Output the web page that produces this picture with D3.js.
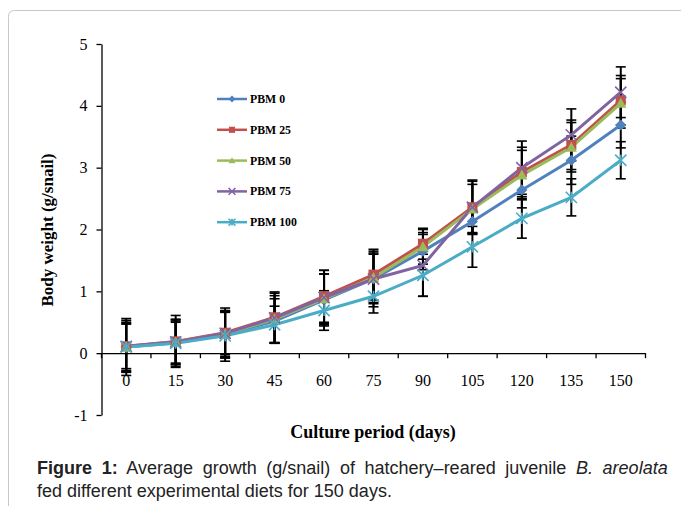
<html>
  <head>
    <meta charset="utf-8" />
    <script src="https://d3js.org/d3.v7.min.js"></script>
    <style>
      body { margin: 0; background: #fff; }
      .tick text { font-family: "Liberation Serif", "Times New Roman", serif; font-size: 16px; }
      .caption { font-family: "Liberation Sans", Arial, sans-serif; font-size: 18px; fill: #222; }
    </style>
  </head>
  <body>
    <svg id="chart" width="681" height="506"></svg>
    <script>
      var days = ["0", "15", "30", "45", "60", "75", "90", "105", "120", "135", "150"];
      var yTicks = [-1, 0, 1, 2, 3, 4, 5];
      var seriesNames = ["PBM 0", "PBM 25", "PBM 50", "PBM 75", "PBM 100"];

      var pbm0 = [0.10, 0.17, 0.30, 0.52, 0.86, 1.20, 1.65, 2.13, 2.64, 3.12, 3.69];
      var pbm25 = [0.11, 0.19, 0.33, 0.58, 0.92, 1.27, 1.77, 2.36, 2.93, 3.37, 4.09];
      var pbm50 = [0.10, 0.18, 0.31, 0.55, 0.88, 1.22, 1.72, 2.33, 2.88, 3.33, 4.04];
      var pbm75 = [0.11, 0.18, 0.32, 0.57, 0.90, 1.20, 1.42, 2.36, 3.00, 3.53, 4.22];
      var pbm100 = [0.10, 0.16, 0.28, 0.46, 0.69, 0.92, 1.26, 1.72, 2.18, 2.52, 3.12];

      // standard deviations (error bars)
      var err0 = [0.40, 0.38, 0.38, 0.36, 0.42, 0.40, 0.30, 0.18, 0.29, 0.39, 0.37];
      var err25 = [0.42, 0.42, 0.40, 0.41, 0.42, 0.41, 0.25, 0.44, 0.40, 0.40, 0.40];
      var err50 = [0.38, 0.36, 0.36, 0.38, 0.40, 0.40, 0.28, 0.40, 0.40, 0.40, 0.40];
      var err75 = [0.36, 0.34, 0.34, 0.40, 0.44, 0.45, 0.50, 0.42, 0.43, 0.42, 0.41];
      var err100 = [0.46, 0.34, 0.41, 0.30, 0.32, 0.27, 0.34, 0.33, 0.32, 0.30, 0.30];

      var colors = ["#4F81BD", "#C0504D", "#9BBB59", "#8064A2", "#4BACC6"];
      var markers = ["diamond", "square", "triangle", "x", "star"];

      var series = seriesNames.map(function (name, i) {
        var vals = [pbm0, pbm25, pbm50, pbm75, pbm100][i];
        var errs = [err0, err25, err50, err75, err100][i];
        return {
          name: name,
          color: colors[i],
          marker: markers[i],
          points: days.map(function (d, j) { return { day: d, v: vals[j], e: errs[j] }; })
        };
      });

      var svg = d3.select("#chart");
      var serif = '"Liberation Serif", "Times New Roman", serif';

      // figure frame (top and left edges visible)
      svg.append("path")
        .attr("d", "M8.5,520V16.5Q8.5,10.5 14.5,10.5H700")
        .attr("fill", "none")
        .attr("stroke", "#c8c8c8");

      var x = d3.scaleBand().domain(days).range([101.5, 645.5]).padding(0);
      var y = d3.scaleLinear().domain([-1, 5]).range([415, 44]);
      var cx = function (d) { return x(d) + x.bandwidth() / 2; };

      // y axis
      svg.append("g")
        .attr("transform", "translate(101.5,0)")
        .call(d3.axisLeft(y).tickValues(yTicks).tickFormat(String).tickSize(5).tickSizeOuter(0).tickPadding(9))
        .call(function (g) { g.selectAll("line, path").attr("stroke", "#000").attr("stroke-width", 1.3); });

      // x axis at y = 0
      var xg = svg.append("g")
        .attr("transform", "translate(0," + y(0) + ")")
        .call(d3.axisBottom(x).tickSize(0).tickSizeOuter(0).tickPadding(21));
      xg.selectAll("path").attr("stroke", "#000").attr("stroke-width", 1.3);
      xg.selectAll(".bound")
        .data(d3.range(days.length + 1))
        .enter().append("line")
        .attr("x1", function (i) { return 101.5 + i * x.step(); })
        .attr("x2", function (i) { return 101.5 + i * x.step(); })
        .attr("y1", 0).attr("y2", 5)
        .attr("stroke", "#000").attr("stroke-width", 1.3);

      // error bars
      series.forEach(function (s) {
        var g = svg.append("g");
        g.selectAll("line.v").data(s.points).enter().append("line")
          .attr("x1", function (d) { return cx(d.day); })
          .attr("x2", function (d) { return cx(d.day); })
          .attr("y1", function (d) { return y(d.v + d.e); })
          .attr("y2", function (d) { return y(d.v - d.e); })
          .attr("stroke", "#000").attr("stroke-width", 2);
        [1, -1].forEach(function (sgn) {
          g.selectAll("line.c" + sgn).data(s.points).enter().append("line")
            .attr("x1", function (d) { return cx(d.day) - 5; })
            .attr("x2", function (d) { return cx(d.day) + 5; })
            .attr("y1", function (d) { return y(d.v + sgn * d.e); })
            .attr("y2", function (d) { return y(d.v + sgn * d.e); })
            .attr("stroke", "#000").attr("stroke-width", 1.6);
        });
      });

      var line = d3.line().x(function (d) { return cx(d.day); }).y(function (d) { return y(d.v); });

      function drawMarker(sel, type, color, r) {
        if (type === "diamond") {
          sel.append("path").attr("d", "M0," + (-r) + "L" + r + ",0L0," + r + "L" + (-r) + ",0Z").attr("fill", color);
        } else if (type === "square") {
          sel.append("rect").attr("x", -r * 0.9).attr("y", -r * 0.9).attr("width", r * 1.8).attr("height", r * 1.8).attr("fill", color);
        } else if (type === "triangle") {
          sel.append("path").attr("d", "M0," + (-r) + "L" + r + "," + (r * 0.8) + "L" + (-r) + "," + (r * 0.8) + "Z").attr("fill", color);
        } else if (type === "x") {
          sel.append("path").attr("d", "M" + (-r) + "," + (-r) + "L" + r + "," + r + "M" + (-r) + "," + r + "L" + r + "," + (-r))
            .attr("stroke", color).attr("stroke-width", 1.6).attr("fill", "none");
        } else {
          sel.append("path").attr("d", "M" + (-r) + "," + (-r) + "L" + r + "," + r + "M" + (-r) + "," + r + "L" + r + "," + (-r) + "M0," + (-r) + "L0," + r)
            .attr("stroke", color).attr("stroke-width", 1.6).attr("fill", "none");
        }
      }

      series.forEach(function (s) {
        svg.append("path")
          .datum(s.points)
          .attr("d", line)
          .attr("fill", "none")
          .attr("stroke", s.color)
          .attr("stroke-width", 3);
      });

      series.forEach(function (s) {
        svg.append("g").selectAll("g").data(s.points).enter().append("g")
          .attr("transform", function (d) { return "translate(" + cx(d.day) + "," + y(d.v) + ")"; })
          .each(function () { drawMarker(d3.select(this), s.marker, s.color, 5.6); });
      });

      // legend
      var leg = svg.append("g").attr("transform", "translate(217,99)");
      series.forEach(function (s, i) {
        var row = leg.append("g").attr("transform", "translate(0," + (i * 30.8) + ")");
        row.append("line").attr("x1", 0).attr("x2", 30).attr("y1", 0).attr("y2", 0)
          .attr("stroke", s.color).attr("stroke-width", 2.5);
        var m = row.append("g").attr("transform", "translate(15,0)");
        drawMarker(m, s.marker, s.color, 3.4);
        row.append("text").attr("x", 33).attr("y", 4)
          .attr("font-family", serif).attr("font-weight", "bold").attr("font-size", 11.8)
          .text(s.name);
      });

      // axis titles
      svg.append("text")
        .attr("transform", "translate(53,230) rotate(-90)")
        .attr("text-anchor", "middle")
        .attr("font-family", serif).attr("font-weight", "bold").attr("font-size", 17)
        .text("Body weight (g/snail)");
      svg.append("text")
        .attr("x", 373).attr("y", 438)
        .attr("text-anchor", "middle")
        .attr("font-family", serif).attr("font-weight", "bold").attr("font-size", 18)
        .text("Culture period (days)");

      // caption (first line justified to the column width)
      var cap = svg.append("text").attr("class", "caption").attr("x", 37).attr("y", 474);
      cap.append("tspan").attr("font-weight", "bold").text("Figure 1:");
      cap.append("tspan").text(" Average growth (g/snail) of hatchery\u2013reared juvenile ");
      cap.append("tspan").attr("font-style", "italic").text("B. areolata");
      var w = cap.node().getComputedTextLength();
      var gaps = 8;
      if (w < 626) cap.attr("word-spacing", ((626 - w) / gaps).toFixed(2));
      svg.append("text").attr("class", "caption").attr("x", 37).attr("y", 497)
        .text("fed different experimental diets for 150 days.");
    </script>
  </body>
</html>
